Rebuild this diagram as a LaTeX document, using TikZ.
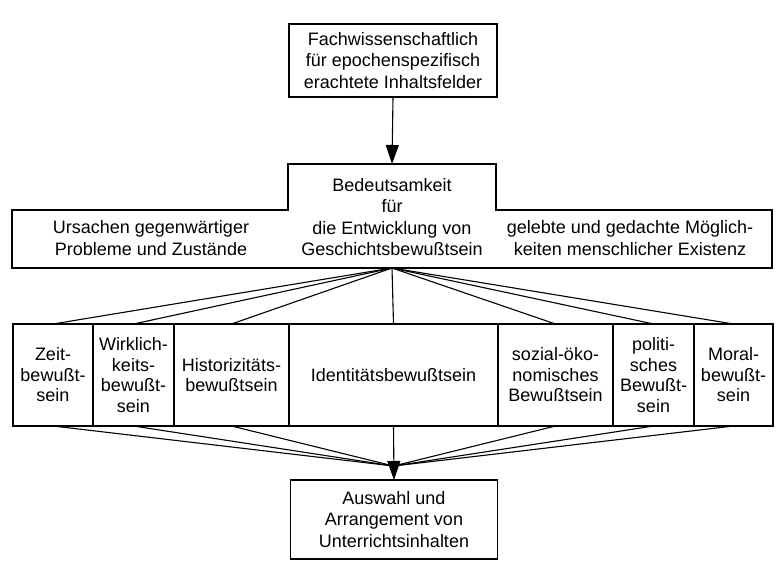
\documentclass[tikz,border=0pt]{standalone}
\usepackage{fontspec}
\setmainfont{Liberation Sans}
\usetikzlibrary{arrows.meta}
\begin{document}
\begin{tikzpicture}[x=1pt,y=-1pt, line width=1.1pt,
 txt/.style={font=\fontsize{18}{21.5}\selectfont, align=center, inner sep=0pt, outer sep=0pt},
 frame/.style={draw, inner sep=0pt, outer sep=0pt},
 blank/.style={inner sep=0pt, outer sep=0pt},
 cell/.style={draw, anchor=north west, minimum height=102pt, inner sep=0pt, outer sep=0pt, font=\fontsize{18}{20.5}\selectfont, align=center},
 arr/.style={-{Triangle[length=19pt,width=13pt]}}]
\useasboundingbox (0,0) rectangle (776,560);

% top box
\node[frame, txt, minimum width=208pt, minimum height=73pt] (top) at (393,60.5)
  {Fachwissenschaftlich\\für epochenspezifisch\\erachtete Inhaltsfelder};

% middle stepped shape
\node[blank, minimum width=208pt, minimum height=46pt] (up) at (392,187) {};
\node[blank, minimum width=760pt, minimum height=58pt] (low) at (392,239) {};
\draw (up.north west) -- (up.north east) -- (up.south east) -- (low.north east)
  -- (low.south east) -- (low.south west) -- (low.north west) -- (up.south west) -- cycle;
\node[txt] (bed) at (392,217) {Bedeutsamkeit\\für\\die Entwicklung von\\Geschichtsbewußtsein};
\node[txt] (urs) at (151,238) {Ursachen gegenwärtiger\\Probleme und Zustände};
\node[txt] (geb) at (630,238) {gelebte und gedachte Möglich-\\keiten menschlicher Existenz};

% row of boxes
\node[cell, minimum width=80pt]  (c1) at (13,324)  {Zeit-\\bewußt-\\sein};
\node[cell, minimum width=81pt]  (c2) at (93,324)  {Wirklich-\\keits-\\bewußt-\\sein};
\node[cell, minimum width=115pt] (c3) at (174,324) {Historizitäts-\\bewußtsein};
\node[cell, minimum width=209pt] (c4) at (289,324) {Identitätsbewußtsein};
\node[cell, minimum width=115pt] (c5) at (498,324) {sozial-öko-\\nomisches\\Bewußtsein};
\node[cell, minimum width=81pt]  (c6) at (613,324) {politi-\\sches\\Bewußt-\\sein};
\node[cell, minimum width=79pt]  (c7) at (694,324) {Moral-\\bewußt-\\sein};

% bottom box
\node[frame, txt, minimum width=207pt, minimum height=79pt] (bot) at (394,519.5)
  {Auswahl und\\Arrangement von\\Unterrichtsinhalten};

% connectors
\draw[arr] (top.south) -- (up.north);
\foreach \c in {c1,c2,c3,c4,c5,c6,c7} \draw (low.south) -- (\c.north);
\coordinate (conv) at (393.5,466);
\foreach \c in {c1,c2,c3,c5,c6,c7} \draw (\c.south) -- (conv);
\draw[arr] (c4.south) -- (bot.north);
\end{tikzpicture}
\end{document}
